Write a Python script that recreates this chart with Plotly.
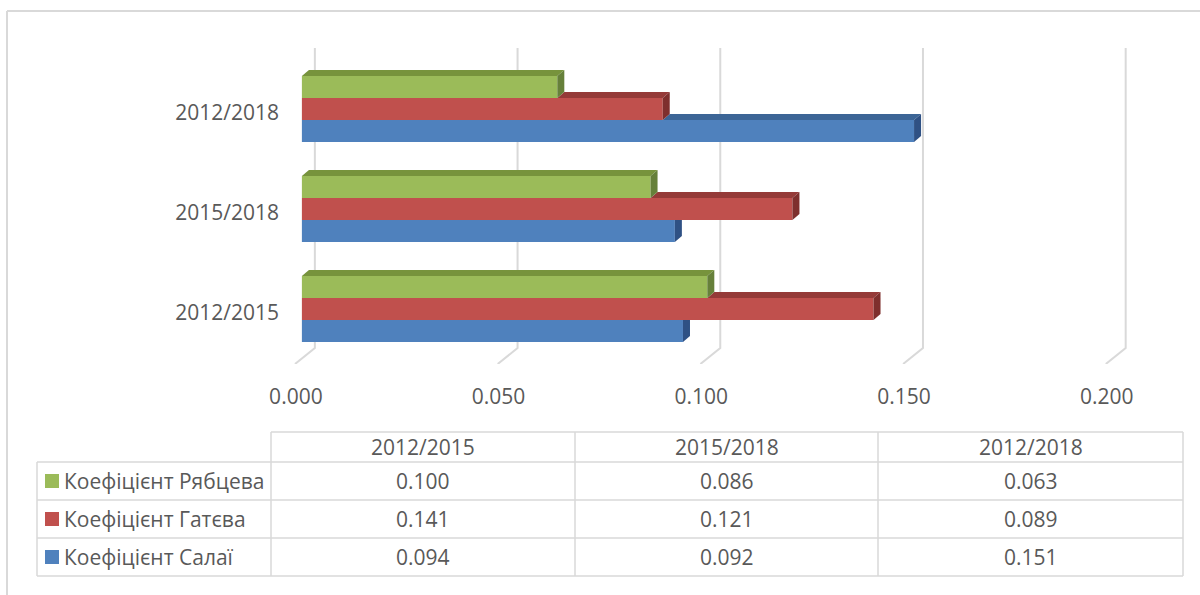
import plotly.graph_objects as go

# ── Data ──────────────────────────────────────────────────────────────────────
periods = ["2012/2015", "2015/2018", "2012/2018"]          # bottom -> top on chart
tick_vals = [0.0, 0.05, 0.10, 0.15, 0.20]
tick_text = ["0.000", "0.050", "0.100", "0.150", "0.200"]

salai = [0.094, 0.092, 0.151]        # Коефіцієнт Салаї
gateva = [0.141, 0.121, 0.089]       # Коефіцієнт Гатєва
riabtseva = [0.100, 0.086, 0.063]    # Коефіцієнт Рябцева

# bar order inside each group, bottom -> top: (name, values, front, top face, side face)
series = [
    ("Коефіцієнт Салаї", salai, "#4F81BD", "#3C6596", "#2F5184"),
    ("Коефіцієнт Гатєва", gateva, "#C0504D", "#953A38", "#7E2F2D"),
    ("Коефіцієнт Рябцева", riabtseva, "#9BBB59", "#77933C", "#66803A"),
]

# ── Geometry ──────────────────────────────────────────────────────────────────
W, H = 1200, 595
TEXT = "#595959"
GRID = "#D9D9D9"
FONT = "Open Sans"
FS = 21

BAR_W = 0.22          # one bar, in category units
DX = 0.00173          # 3-D depth along x (data units)
DY = 0.06             # 3-D depth along y (category units)
X_RANGE = [-0.0054, 0.2092]
Y_RANGE = [-0.55, 2.61]


def px(x):
    return x / W


def py(y):
    return 1 - y / H


fig = go.Figure()

# front faces
for k, (name, vals, front, top, side) in enumerate(series):
    fig.add_trace(go.Bar(
        y=list(range(len(periods))), x=vals, orientation="h",
        width=BAR_W, offset=-1.5 * BAR_W + k * BAR_W,
        marker=dict(color=front, line=dict(width=0)),
        name=name, showlegend=False, hoverinfo="x+name",
    ))

# top and side faces (only the visible part)
for c in range(len(periods)):
    for k, (name, vals, front, top, side) in enumerate(series):
        v = vals[c]
        upper = series[k + 1][1][c] if k + 1 < len(series) else None
        u = upper if upper is not None else 0.0
        yb = c - 1.5 * BAR_W + k * BAR_W
        yt = yb + BAR_W
        if v > u:
            fig.add_trace(go.Scatter(
                x=[u, v, v + DX, u + DX, u], y=[yt, yt, yt + DY, yt + DY, yt],
                mode="lines", fill="toself", fillcolor=top, line=dict(width=0),
                showlegend=False, hoverinfo="skip",
            ))
        if upper is not None and upper >= v + DX:
            sx, sy = [v, v, v + DX, v + DX, v], [yb, yt, yt, yb + DY, yb]
        else:
            sx, sy = [v, v, v + DX, v + DX, v], [yb, yt, yt + DY, yb + DY, yb]
        fig.add_trace(go.Scatter(
            x=sx, y=sy, mode="lines", fill="toself", fillcolor=side,
            line=dict(width=0), showlegend=False, hoverinfo="skip",
        ))

shapes = []
# 3-D gridlines: back wall + floor diagonal
back_dx, front_dx = 0.0032, -0.0017
for t in tick_vals:
    shapes.append(dict(type="path", xref="x", yref="y", layer="below",
                       path=f"M {t + back_dx} {Y_RANGE[1]} L {t + back_dx} -0.39 L {t + front_dx} {Y_RANGE[0]}",
                       line=dict(color=GRID, width=2)))

# outer chart border
shapes.append(dict(type="line", xref="paper", yref="paper", x0=px(7), x1=px(1200), y0=py(11), y1=py(11),
                   line=dict(color=GRID, width=2)))
shapes.append(dict(type="line", xref="paper", yref="paper", x0=px(7), x1=px(7), y0=py(11), y1=py(595),
                   line=dict(color=GRID, width=2)))

# ── Data table ───────────────────────────────────────────────────────────────
COL_X = [271, 575, 878, 1183]
ROW_Y = [432, 462, 500, 538, 576]
LEG_X0 = 37
tl = dict(color=GRID, width=1.5)
shapes.append(dict(type="line", xref="paper", yref="paper", x0=px(COL_X[0]), x1=px(COL_X[-1]),
                   y0=py(ROW_Y[0]), y1=py(ROW_Y[0]), line=tl))
for ry in ROW_Y[1:]:
    shapes.append(dict(type="line", xref="paper", yref="paper", x0=px(LEG_X0), x1=px(COL_X[-1]),
                       y0=py(ry), y1=py(ry), line=tl))
shapes.append(dict(type="line", xref="paper", yref="paper", x0=px(LEG_X0), x1=px(LEG_X0),
                   y0=py(ROW_Y[1]), y1=py(ROW_Y[-1]), line=tl))
for cx in COL_X:
    shapes.append(dict(type="line", xref="paper", yref="paper", x0=px(cx), x1=px(cx),
                       y0=py(ROW_Y[0]), y1=py(ROW_Y[-1]), line=tl))

txt_font = dict(family=FONT, size=FS, color=TEXT)
annotations = []
for i, p in enumerate(periods):
    annotations.append(dict(x=px((COL_X[i] + COL_X[i + 1]) / 2), y=py((ROW_Y[0] + ROW_Y[1]) / 2),
                            xref="paper", yref="paper", text=p, showarrow=False,
                            xanchor="center", yanchor="middle", font=txt_font))

table_rows = list(reversed(series))   # Рябцева, Гатєва, Салаї
for r, (name, vals, front, top, side) in enumerate(table_rows):
    yc = (ROW_Y[r + 1] + ROW_Y[r + 2]) / 2
    shapes.append(dict(type="rect", xref="paper", yref="paper", x0=px(45), x1=px(59),
                       y0=py(yc - 7), y1=py(yc + 7), fillcolor=front, line=dict(width=0)))
    annotations.append(dict(x=px(62), y=py(yc), xref="paper", yref="paper", text=name,
                            xanchor="left", yanchor="middle", showarrow=False, font=txt_font))
    for i, v in enumerate(vals):
        annotations.append(dict(x=px((COL_X[i] + COL_X[i + 1]) / 2), y=py(yc),
                                xref="paper", yref="paper", text=f"{v:.3f}", showarrow=False,
                                xanchor="center", yanchor="middle", font=txt_font))

fig.update_layout(
    width=W, height=H,
    margin=dict(l=0, r=0, t=0, b=0, autoexpand=False),
    paper_bgcolor="#ffffff", plot_bgcolor="#ffffff",
    barmode="overlay",
    showlegend=False,
    font=txt_font,
    shapes=shapes, annotations=annotations,
    xaxis=dict(domain=[px(280), px(1150)], range=X_RANGE, showgrid=False, zeroline=False,
               showline=False, tickvals=tick_vals, ticktext=tick_text, ticks="",
               ticklabelshift=-6, ticklabelstandoff=18, automargin=False, fixedrange=True),
    yaxis=dict(domain=[py(364), py(48)], range=Y_RANGE, showgrid=False, zeroline=False,
               showline=False, tickvals=list(range(len(periods))), ticktext=periods, ticks="",
               ticklabelshift=4, automargin=False, fixedrange=True),
)

# page has default body margins -> strip them so the figure sits at (0, 0)
fig.write_html("out.html", config={"displayModeBar": False},
               post_script="document.body.style.margin='0';document.body.style.overflow='hidden';")
